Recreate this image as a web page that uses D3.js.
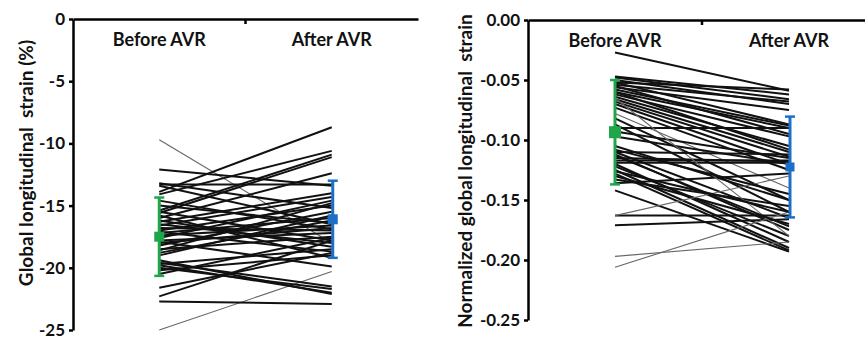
<!DOCTYPE html>
<html>
<head>
<meta charset="utf-8">
<script src="https://cdn.jsdelivr.net/npm/d3@7"></script>
<style>
body{margin:0;background:#fff}
text{font-family:Lato, "Open Sans", sans-serif;font-weight:bold;fill:#111}
</style>
</head>
<body>
<svg id="chart" width="865" height="341"></svg>
<script>
var categories = ["Before AVR", "After AVR"]

// left panel - global longitudinal strain (%), one value per patient
var gls_before = [-9.7, -25.0, -13.9, -12.1, -13.3, -13.4, -14.1, -15.4, -15.6, -16.0, -16.3, -16.6, -17.0, -17.2,
  -17.4, -17.6, -17.8, -18.0, -18.2, -18.5, -18.8, -19.0, -19.6, -19.8, -20.0, -19.7, -20.2, -21.6, -22.3, -22.7,
  -15.5, -15.8, -16.2, -14.6, -19.4, -16.8, -17.1, -18.6, -20.5, -15.0, -13.2, -16.5, -17.9]
var gls_after = [-18.0, -20.3, -8.7, -13.4, -13.3, -16.5, -10.6, -10.9, -11.1, -12.4, -14.0, -14.3, -15.0, -16.0,
  -16.6, -14.6, -17.2, -16.8, -15.5, -17.5, -16.2, -15.8, -21.5, -22.0, -21.7, -18.5, -19.0, -18.8, -17.8, -22.9,
  -17.8, -19.2, -18.3, -16.9, -22.1, -17.0, -18.7, -14.8, -17.6, -16.4, -15.2, -18.0, -19.9]
var gls_mean = [-17.5, -16.1]
var gls_sd = [3.15, 3.1]
var gls_ticks = [0, -5, -10, -15, -20, -25]

// right panel - normalized global longitudinal strain
var ngls_before = [-0.027, -0.047, -0.048, -0.050, -0.052, -0.054, -0.056, -0.058, -0.060, -0.062, -0.064, -0.066,
  -0.068, -0.070, -0.073, -0.078, -0.082, -0.087, -0.090, -0.093, -0.097, -0.105, -0.110, -0.112, -0.115, -0.117,
  -0.119, -0.120, -0.122, -0.125, -0.128, -0.130, -0.133, -0.136, -0.142, -0.163, -0.163, -0.171, -0.197, -0.206,
  -0.065, -0.060, -0.055, -0.110, -0.108, -0.113, -0.052, -0.126]
var ngls_after = [-0.059, -0.062, -0.066, -0.070, -0.058, -0.068, -0.075, -0.088, -0.090, -0.097, -0.105, -0.110,
  -0.114, -0.120, -0.125, -0.140, -0.150, -0.160, -0.090, -0.115, -0.120, -0.150, -0.165, -0.175, -0.118, -0.117,
  -0.119, -0.185, -0.180, -0.190, -0.192, -0.170, -0.155, -0.128, -0.193, -0.163, -0.130, -0.166, -0.185, -0.160,
  -0.180, -0.108, -0.095, -0.112, -0.145, -0.172, -0.087, -0.160]
var ngls_mean = [-0.0935, -0.1225]
var ngls_sd = [0.0435, 0.042]
var ngls_ticks = [0, -0.05, -0.10, -0.15, -0.20, -0.25]

var green = "#1fa64a"
var blue = "#1c6ec6"

var svg = d3.select("#chart")

var draw_panel = function(p){
  var x = d3.scaleBand().domain(categories).range([p.left, p.right])
  var y = d3.scaleLinear().domain([0, p.ticks[p.ticks.length - 1]]).range([p.top, p.bottom])
  var cx = function(c){ return x(c) + x.bandwidth() / 2 }

  var g = svg.append("g")

  // patient lines
  var line = d3.line()
  g.append("g").selectAll("path")
    .data(p.before)
    .enter()
    .append("path")
    .attr("d", function(d, i){ return line([[cx(categories[0]), y(d)], [cx(categories[1]), y(p.after[i])]]) })
    .attr("fill", "none")
    .attr("stroke", function(d, i){ return p.faint.indexOf(i) >= 0 ? "#666" : "#111" })
    .attr("stroke-width", function(d, i){ return p.faint.indexOf(i) >= 0 ? 1.1 : 2 })

  // y axis
  var yAxis = d3.axisLeft(y).tickValues(p.ticks).tickSize(4).tickSizeOuter(0).tickPadding(4).tickFormat(p.fmt)
  var ya = g.append("g").attr("transform", "translate(" + p.left + ",0)").call(yAxis)
  ya.select(".domain").attr("stroke-width", 2.5)
  ya.selectAll(".tick line").attr("stroke-width", 2.5)
  ya.selectAll("text").style("font-size", "17px").attr("fill", "#111")

  // top category axis
  var xAxis = d3.axisBottom(x).tickSize(0).tickSizeOuter(0).tickPadding(14)
  var xa = g.append("g").attr("transform", "translate(0," + p.top + ")").call(xAxis)
  xa.select(".domain").attr("stroke-width", 2.5)
  xa.selectAll("text").style("font-size", "18px").attr("fill", "#111")
  g.append("line")
    .attr("x1", x(categories[1])).attr("x2", x(categories[1]))
    .attr("y1", p.top).attr("y2", p.top + 5)
    .attr("stroke", "#000").attr("stroke-width", 2.5)

  // mean +- SD
  var cols = [green, blue]
  categories.forEach(function(c, i){
    var m = p.mean[i], s = p.sd[i]
    var xc = cx(c) + (i == 0 ? 0 : 1)
    g.append("line").attr("x1", xc).attr("x2", xc).attr("y1", y(m + s)).attr("y2", y(m - s))
      .attr("stroke", cols[i]).attr("stroke-width", 3)
    ;[m + s, m - s].forEach(function(v){
      g.append("line").attr("x1", xc - 5).attr("x2", xc + 5).attr("y1", y(v)).attr("y2", y(v))
        .attr("stroke", cols[i]).attr("stroke-width", 2.5)
    })
    var sz = p.box[i]
    g.append("rect").attr("x", xc - sz / 2).attr("y", y(m) - sz / 2).attr("width", sz).attr("height", sz)
      .attr("fill", cols[i])
  })

  // y title
  g.append("text")
    .attr("transform", "translate(" + p.titleX + "," + p.titleY + ") rotate(-90)")
    .attr("text-anchor", "middle")
    .attr("dy", "0.35em")
    .style("font-size", "19px")
    .style("white-space", "pre")
    .text(p.title)
}

draw_panel({
  left: 73, right: 418, top: 19, bottom: 330,
  ticks: gls_ticks, before: gls_before, after: gls_after, mean: gls_mean, sd: gls_sd,
  fmt: function(d){ return String(d) }, faint: [0, 1], box: [10, 10],
  title: "Global longitudinal  strain (%)", titleX: 26, titleY: 163
})

draw_panel({
  left: 528, right: 876, top: 20, bottom: 320,
  ticks: ngls_ticks, before: ngls_before, after: ngls_after, mean: ngls_mean, sd: ngls_sd,
  fmt: function(d){ return d.toFixed(2) }, faint: [15, 36, 38, 39, 40], box: [12, 9],
  title: "Normalized global longitudinal  strain", titleX: 465, titleY: 171
})
</script>
</body>
</html>
